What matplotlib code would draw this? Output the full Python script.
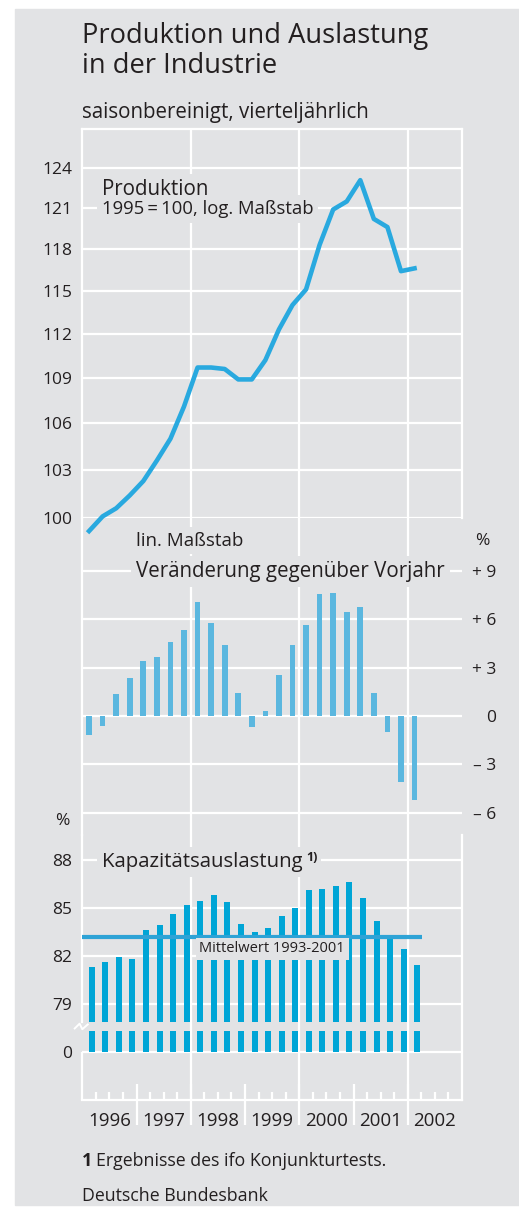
import numpy as np
import matplotlib
matplotlib.use("Agg")
import matplotlib.pyplot as plt
from matplotlib.patches import Rectangle
from matplotlib.ticker import NullLocator

# Quartalswerte 1996 Q1 bis 2002 Q1
produktion = [99.2, 100.1, 100.6, 101.4, 102.3, 103.6, 105.0, 107.1,
              109.7, 109.7, 109.6, 108.9, 108.9, 110.2, 112.3, 114.0,
              115.1, 118.3, 120.9, 121.5, 123.1, 120.2, 119.6, 116.4, 116.6]
veraenderung = [-1.2, -0.6, 1.35, 2.35, 3.4, 3.65, 4.6, 5.35,
                7.1, 5.75, 4.4, 1.45, -0.7, 0.3, 2.55, 4.4,
                5.65, 7.55, 7.65, 6.45, 6.75, 1.45, -1.0, -4.1, -5.2]
auslastung = [81.3, 81.6, 81.9, 81.8, 83.6, 83.9, 84.6, 85.2,
              85.45, 85.8, 85.35, 84.0, 83.5, 83.75, 84.5, 85.0,
              86.1, 86.2, 86.35, 86.65, 85.6, 84.2, 83.25, 82.4, 81.4]
mittelwert = 83.2
years = list(range(1996, 2003))
prod_ticks = [100, 103, 106, 109, 112, 115, 118, 121, 124]
chg_ticks = [-6, -3, 0, 3, 6, 9]
chg_labels = ["\u2013 6", "\u2013 3", "0", "+ 3", "+ 6", "+ 9"]
cap_ticks = [79, 82, 85, 88]

x = 1996 + (np.arange(len(produktion)) + 0.5) / 4

plt.rcParams['font.family'] = ['Open Sans', 'DejaVu Sans']
NARROW = ['Liberation Sans Narrow', 'Open Sans', 'DejaVu Sans']
INK = '#231F20'
BG = '#E2E3E5'
GRID = dict(color='white', lw=1.6)

W, H = 519, 1210
fig = plt.figure(figsize=(W / 100, H / 100), dpi=100)
fig.patches.append(Rectangle((15 / W, 1 - 1205 / H), 1, (1205 - 9) / H,
                             transform=fig.transFigure, color=BG, zorder=-10))


def box(top, bottom, left=82.3, right=462.0):
    return [left / W, 1 - bottom / H, (right - left) / W, (bottom - top) / H]


def ftext(px, py, s, **kw):
    kw.setdefault('color', INK)
    return fig.text(px / W, 1 - py / H, s, **kw)


def base(ax):
    ax.set_facecolor('none')
    ax.set_xlim(1996, 2003)
    for sp in ax.spines.values():
        sp.set_visible(False)
        sp.set_color('white')
        sp.set_linewidth(1.6)
    ax.spines['left'].set_visible(True)
    for yr in (1998, 2000, 2002):
        ax.axvline(yr, zorder=0.5, **GRID)
    ax.set_xticks([])
    ax.tick_params(length=0, colors=INK)
    ax.grid(axis='y', **GRID)
    ax.set_axisbelow(True)


# --- Produktion (log) ---
ax1 = fig.add_axes(box(129, 518))
base(ax1)
ax1.spines['top'].set_visible(True)
ax1.spines['right'].set_visible(True)
ax1.set_yscale('log')
ax1.set_ylim(100, 100 * np.exp(389 / 1625.5))
ax1.set_yticks(prod_ticks)
ax1.set_yticklabels([str(t) for t in prod_ticks], fontfamily=NARROW, fontsize=12.5)
ax1.yaxis.set_minor_locator(NullLocator())
ax1.tick_params(axis='y', pad=7.4)
ax1.plot(x, produktion, color='#29A9DF', lw=3.3, clip_on=False, zorder=3)

# --- Veraenderung gegenueber Vorjahr ---
ax2 = fig.add_axes(box(518, 835))
base(ax2)
ax2.set_ylim(-(835 - 716) / 16.1, (716 - 518) / 16.1)
ax2.yaxis.tick_right()
ax2.set_yticks(chg_ticks)
ax2.set_yticklabels(chg_labels, fontfamily=NARROW, fontsize=12.5, ha='right')
ax2.tick_params(axis='y', pad=24.5)
ax2.bar(x, veraenderung, width=0.105, color='#5BB7DF', zorder=2)

# --- Kapazitaetsauslastung (gebrochene Achse) ---
zero_pos, brk_lo, brk_hi = 75.95, 77.29, 77.87
ax3 = fig.add_axes(box(835, 1100))
base(ax3)
ax3.spines['right'].set_visible(True)
ax3.spines['bottom'].set_visible(True)
ax3.set_ylim(79 - 96.3 / 15.97, 79 + 168.7 / 15.97)
ax3.spines['left'].set_bounds(brk_hi, ax3.get_ylim()[1])
ax3.vlines(1996, ax3.get_ylim()[0], zero_pos, clip_on=False, **GRID)
ax3.set_yticks([zero_pos] + cap_ticks)
ax3.set_yticklabels(['0'] + [str(t) for t in cap_ticks], fontfamily=NARROW, fontsize=12.5)
ax3.tick_params(axis='y', pad=7.4)
xc = x + 0.05
aus = np.array(auslastung)
ax3.bar(xc, aus - brk_hi, bottom=brk_hi, width=0.11, color='#00A5D6', zorder=2)
ax3.bar(xc, np.full(len(aus), brk_lo - zero_pos), bottom=zero_pos, width=0.11,
        color='#00A5D6', zorder=2)
ax3.hlines(mittelwert, 1996, xc[-1] + 0.085, color='#2EA3D6', lw=3, zorder=3)
ax3.annotate('Mittelwert 1993-2001', xy=(1999.5, mittelwert), xytext=(0, -8.9),
             textcoords='offset points', ha='center', va='center', fontsize=10.5,
             fontfamily=NARROW, color=INK, zorder=4,
             bbox=dict(boxstyle='square,pad=0.25', fc=BG, ec='none'))
# Achsenbruch
ax3.plot([1995.86, 1995.95, 1996.0, 1996.1], [77.45, 77.75, 77.4, 77.7],
         color='white', lw=1.4, clip_on=False, zorder=3)

# x-Achse
ax3.set_xticks([y + 0.5 for y in years])
ax3.set_xticklabels([str(y) for y in years], fontsize=13.5)
ax3.tick_params(axis='x', length=0, pad=9)
tr = ax3.get_xaxis_transform()
ax3.vlines([y + q / 4 for y in years for q in (1, 2, 3)], 0, 8 / 265,
           transform=tr, clip_on=False, **GRID)
ax3.vlines(years[1:], -25 / 265, 16 / 265, transform=tr, clip_on=False, **GRID)

# --- Texte ---
ftext(82, 43.3, 'Produktion und Auslastung', fontsize=19.6, va='baseline')
ftext(82, 72.7, 'in der Industrie', fontsize=19.6, va='baseline')
ftext(82, 118.3, 'saisonbereinigt, vierteljährlich', fontsize=14.8, va='baseline')

lbl = dict(boxstyle='square,pad=0.25', fc=BG, ec='none')
ftext(101.7, 195, 'Produktion', fontsize=14.8, va='baseline', bbox=lbl)
ftext(101.7, 214, '1995\u2009=\u2009100, log. Maßstab', fontsize=13.3, va='baseline', bbox=lbl)
ftext(136, 545.7, 'lin. Maßstab', fontsize=13.5, va='baseline', bbox=lbl)
ftext(136, 576.7, 'Veränderung gegenüber Vorjahr', fontsize=14.8, va='baseline', bbox=lbl)
ftext(482.7, 545, '%', fontsize=12.5, va='baseline', ha='center')
ftext(62, 825, '%', fontsize=12.5, va='baseline', ha='center')
ftext(101.7, 867.3, 'Kapazitätsauslastung', fontsize=14.7, va='baseline', bbox=lbl)
ftext(306, 861, '1)', fontsize=9, va='baseline', fontweight='bold',
      bbox=dict(boxstyle='square,pad=0.3', fc=BG, ec='none'))

ftext(82, 1166, '1', fontsize=12.8, va='baseline', fontweight='bold')
ftext(96, 1166, 'Ergebnisse des ifo Konjunkturtests.', fontsize=12.8, va='baseline')
ftext(82, 1201, 'Deutsche Bundesbank', fontsize=12.8, va='baseline')

fig.savefig('out.png', dpi=100)
